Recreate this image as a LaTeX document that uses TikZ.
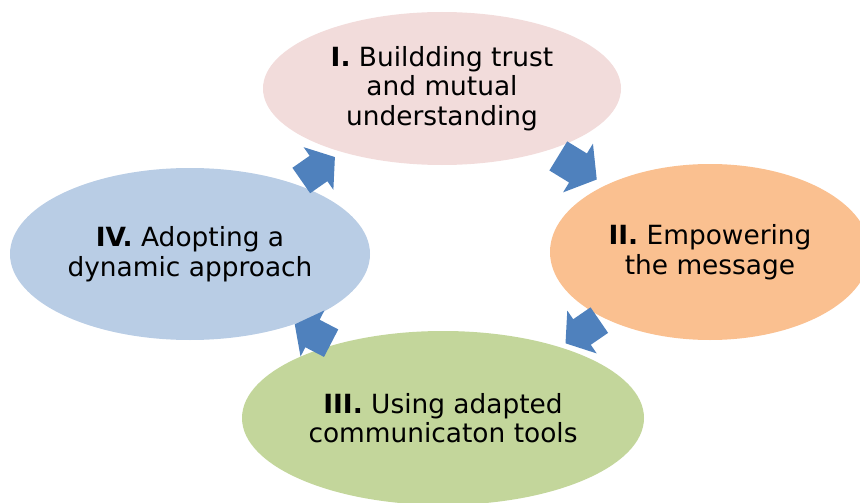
\documentclass[tikz,border=0pt]{standalone}
\usepackage{fontspec}
\setmainfont{DejaVu Sans}
\usetikzlibrary{shapes.geometric}
\definecolor{cpink}{HTML}{F2DCDB}
\definecolor{corange}{HTML}{FAC090}
\definecolor{cgreen}{HTML}{C3D69B}
\definecolor{cblue}{HTML}{B9CDE5}
\definecolor{carrow}{HTML}{4F81BD}
\tikzset{
  stage/.style={ellipse, inner sep=0pt, align=center, text=black,
    font=\fontsize{26.4}{29.5}\selectfont},
  cyclearrow/.style={fill=carrow, draw=none}
}
\newcommand{\blockarrow}[4]{% x, y, angle, scale
  \fill[cyclearrow, shift={(#1,#2)}, rotate=#3, scale=#4]
    (-21,-15.5) -- (0,-15.5) -- (0,-26) -- (20,0) -- (0,26) -- (0,15.5) -- (-21,15.5) -- cycle;
}
\begin{document}
\begin{tikzpicture}[x=1pt,y=-1pt]
\useasboundingbox (0,0) rectangle (860,503);
\clip (0,0) rectangle (860,503);
\node[stage, fill=cpink, minimum width=358pt, minimum height=153pt] (e1) at (442,88.5)
  {\textbf{I.} Buildding trust\\and mutual\\understanding};
\node[stage, fill=corange, minimum width=320pt, minimum height=176pt] (e2) at (710,252)
  {\textbf{II.} Empowering\\the message};
\node[stage, fill=cgreen, minimum width=402pt, minimum height=174pt] (e3) at (443,418)
  {\textbf{III.} Using adapted\\communicaton tools};
\node[stage, fill=cblue, minimum width=360pt, minimum height=172pt] (e4) at (190,254)
  {\textbf{IV.} Adopting a\\dynamic approach};
\blockarrow{578}{168}{-31.5}{1.1}
\blockarrow{582}{332}{-145.5}{1}
\blockarrow{312.5}{333.5}{-207.4}{1}
\blockarrow{318.5}{168.5}{34.9}{1}
\end{tikzpicture}
\end{document}
